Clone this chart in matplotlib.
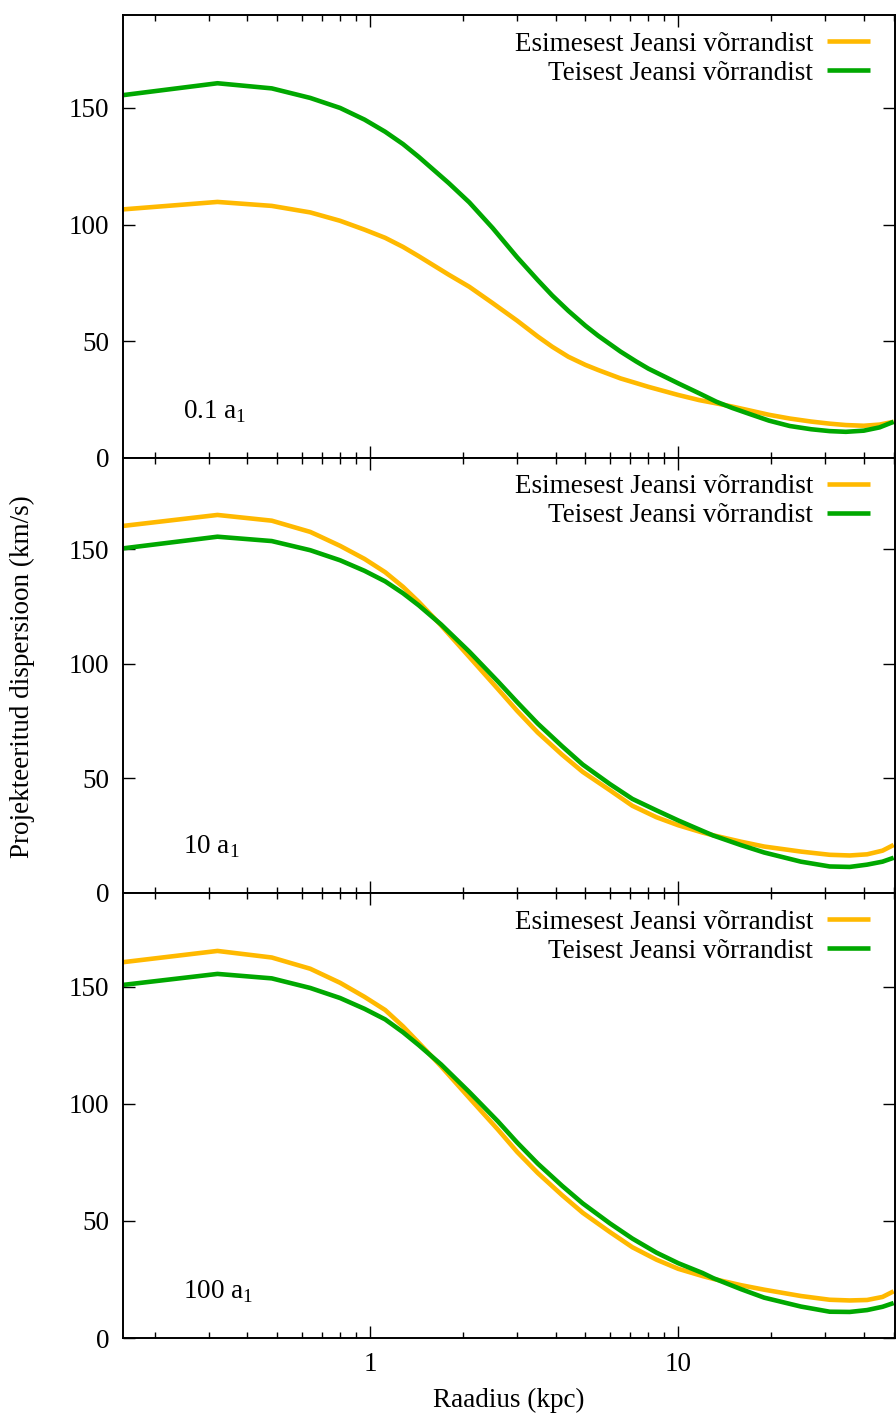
import matplotlib
matplotlib.use('Agg')
import matplotlib.pyplot as plt
from matplotlib.ticker import LogLocator, FixedLocator, NullFormatter, FixedFormatter

plt.rcParams['font.family'] = ['Liberation Serif', 'DejaVu Serif']
plt.rcParams['mathtext.fontset'] = 'custom'
plt.rcParams['mathtext.rm'] = 'Liberation Serif'
plt.rcParams['font.size'] = 19.5

# Data (radius in kpc, dispersion in km/s)
r_a = [0.158, 0.32, 0.48, 0.64, 0.80, 0.96, 1.12, 1.28, 1.44, 1.8, 2.1, 2.5, 3.0, 3.5, 3.9,
       4.4, 5.0, 5.5, 6.5, 7.3, 8.0, 10, 11.7, 13.3, 15, 17, 19.7, 23, 27, 31, 35, 40, 45, 50]
first_a = [106.5, 109.7, 108.0, 105.2, 101.6, 97.8, 94.3, 90.4, 86.4, 78.5, 73.3, 66.3, 58.8, 52.0, 47.6,
           43.3, 39.8, 37.6, 34.0, 32.0, 30.4, 26.9, 24.7, 23.3, 21.9, 20.3, 18.4, 16.8, 15.5, 14.6, 14.0, 13.7, 14.2, 15.4]
second_a = [155.5, 160.6, 158.4, 154.3, 150.0, 145.0, 139.8, 134.5, 129.0, 117.8, 109.5, 98.5, 86.0, 76.2, 69.6,
            63.0, 56.6, 52.3, 45.5, 41.3, 38.2, 31.9, 27.6, 24.0, 21.3, 18.8, 15.9, 13.6, 12.2, 11.4, 11.1, 11.6, 13.0, 15.4]

r_b = [0.158, 0.32, 0.48, 0.64, 0.80, 0.96, 1.12, 1.28, 1.44, 1.7, 2.1, 2.6, 3.0, 3.5, 4.2,
       4.9, 6.0, 7.1, 8.5, 10, 12, 13, 16, 19, 25, 31, 36, 41, 46, 50]
first_b = [160.2, 165.0, 162.5, 157.6, 151.5, 145.8, 140.0, 133.6, 127.0, 116.8, 103.0, 89.0, 79.5, 70.0, 60.3,
           52.8, 44.8, 38.0, 33.0, 29.5, 26.3, 25.1, 22.3, 20.2, 18.0, 16.6, 16.3, 16.8, 18.4, 20.9]
second_b = [150.4, 155.5, 153.6, 149.6, 145.2, 140.6, 136.0, 130.8, 125.5, 117.2, 105.3, 92.3, 83.3, 73.9, 64.0,
            56.0, 47.5, 41.0, 36.0, 31.6, 27.0, 25.0, 20.8, 17.6, 13.6, 11.5, 11.3, 12.3, 13.6, 15.3]

r_c = r_b
first_c = [160.4, 165.2, 162.4, 157.6, 151.6, 145.6, 140.0, 133.0, 126.0, 116.0, 102.5, 89.0, 79.5, 70.5, 61.0,
           53.5, 45.3, 38.8, 33.5, 29.6, 26.5, 25.3, 22.6, 20.7, 18.0, 16.4, 16.1, 16.3, 17.6, 20.0]
second_c = [150.7, 155.4, 153.5, 149.4, 145.1, 140.5, 136.0, 130.5, 125.0, 116.8, 105.0, 92.5, 83.5, 74.5, 65.0,
            57.5, 49.0, 42.5, 36.5, 32.0, 27.8, 25.6, 20.9, 17.3, 13.5, 11.3, 11.2, 12.0, 13.4, 15.0]

panel_labels = ['0.1 a$_1$', '10 a$_1$', '100 a$_1$']
legend_labels = ['Esimesest Jeansi võrrandist', 'Teisest Jeansi võrrandist']
y_ticks = [0, 50, 100, 150]
x_ticks = [1, 10]

orange = '#ffb900'
green = '#00a800'

fig = plt.figure(figsize=(8.96, 14.18), dpi=100)

boxes = [(14.7, 457.7), (457.7, 892.8), (892.8, 1338.2)]
data = [(r_a, first_a, second_a), (r_b, first_b, second_b), (r_c, first_c, second_c)]
H = 1418.0
left, width = 123 / 896, 772 / 896

for i, ((top, bot), (r, f, s)) in enumerate(zip(boxes, data)):
    ax = fig.add_axes([left, 1 - bot / H, width, (bot - top) / H])
    ax.plot(r, f, color=orange, lw=3.3, label=legend_labels[0], solid_capstyle='butt')
    ax.plot(r, s, color=green, lw=3.3, label=legend_labels[1], solid_capstyle='butt')
    ax.set_xscale('log')
    ax.set_xlim(0.158, 50.5)
    ax.set_ylim(0, 190)
    ax.yaxis.set_major_locator(FixedLocator(y_ticks))
    ax.xaxis.set_major_locator(FixedLocator(x_ticks))
    ax.xaxis.set_minor_locator(LogLocator(base=10, subs=range(2, 10)))
    ax.xaxis.set_minor_formatter(NullFormatter())
    if i == 2:
        ax.xaxis.set_major_formatter(FixedFormatter([str(t) for t in x_ticks]))
    else:
        ax.xaxis.set_major_formatter(NullFormatter())
    ax.tick_params(which='both', direction='in', top=True, right=True, width=1.0)
    ax.tick_params(which='major', length=8.5, pad=10)
    ax.tick_params(which='minor', length=4.3)
    for sp in ax.spines.values():
        sp.set_linewidth(1.4)
    ax.text(0.248, 17, panel_labels[i], ha='left', va='baseline')
    ax.legend(loc='upper right', bbox_to_anchor=(0.9676, 0.962), frameon=False,
              markerfirst=False, handlelength=1.6, handletextpad=0.5,
              labelspacing=0.15, borderpad=0, borderaxespad=0)

fig.text(22 / 896, 1 - 676.5 / H, 'Projekteeritud dispersioon (km/s)', rotation=90,
         ha='center', va='center')
fig.text(509 / 896, 1 - 1400 / H, 'Raadius (kpc)', ha='center', va='center')

fig.savefig('out.png', dpi=100)
